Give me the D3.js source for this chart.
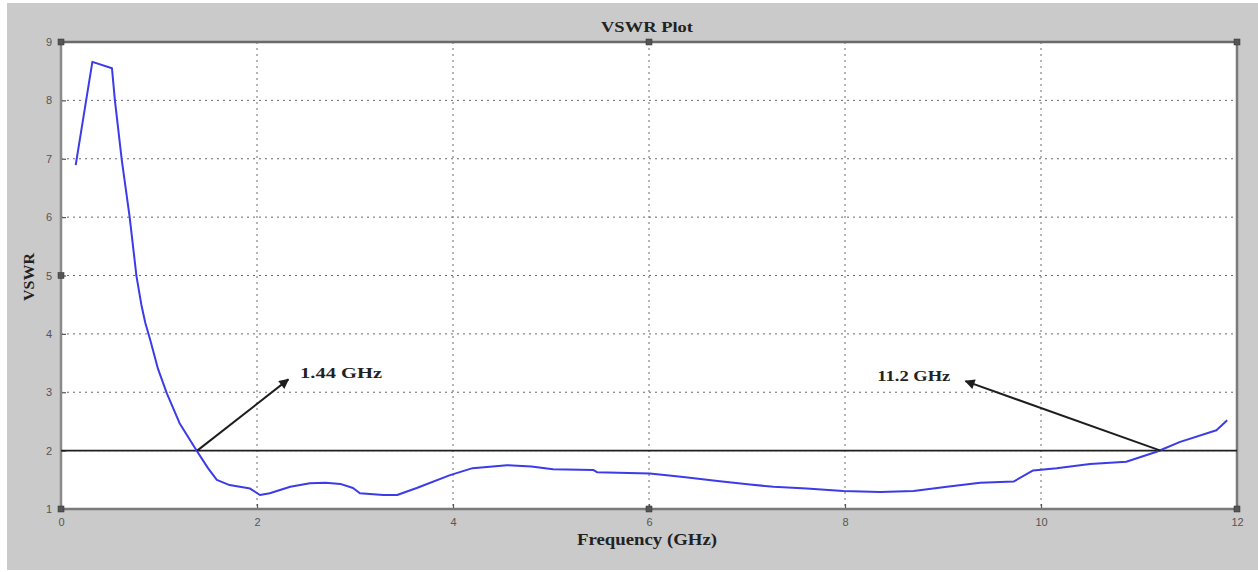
<!DOCTYPE html>
<html>
<head>
<meta charset="utf-8">
<script src="https://cdn.jsdelivr.net/npm/d3@7"></script>
<style>
  html, body { margin: 0; padding: 0; background: #ffffff; }
  svg { display: block; }
</style>
</head>
<body>
<svg id="chart" width="1258" height="572"></svg>
<script>
// Measured VSWR of the antenna versus frequency
const freqGHz = [0.15, 0.32, 0.52, 0.55, 0.62, 0.70, 0.77, 0.82, 0.86, 0.91, 0.99, 1.08, 1.21, 1.38,
  1.50, 1.59, 1.72, 1.93, 2.03, 2.13, 2.34, 2.54, 2.70, 2.85, 2.98, 3.05, 3.29, 3.43,
  3.63, 3.97, 4.20, 4.55, 4.80, 5.02, 5.43, 5.47, 6.01, 6.35, 6.70, 7.03, 7.27, 7.61,
  7.98, 8.36, 8.70, 9.04, 9.38, 9.72, 9.92, 10.16, 10.50, 10.87, 11.18, 11.42, 11.79, 11.90];
const vswr = [6.89, 8.66, 8.55, 8.00, 6.98, 6.01, 4.99, 4.50, 4.19, 3.90, 3.40, 2.98, 2.47, 2.01,
  1.70, 1.50, 1.41, 1.35, 1.24, 1.27, 1.38, 1.44, 1.45, 1.43, 1.36, 1.27, 1.24, 1.24,
  1.36, 1.58, 1.70, 1.75, 1.73, 1.68, 1.67, 1.63, 1.61, 1.55, 1.48, 1.42, 1.38, 1.35,
  1.31, 1.29, 1.31, 1.38, 1.45, 1.47, 1.66, 1.70, 1.77, 1.81, 1.98, 2.15, 2.35, 2.52];

const xTicks = [0, 2, 4, 6, 8, 10, 12];
const yTicks = [1, 2, 3, 4, 5, 6, 7, 8, 9];
const threshold = 2;

// Annotations: arrow tail (on the 2:1 line), arrow head, and label anchor
const markerLabels = ["1.44 GHz", "11.2 GHz"];
const arrowFrom = [[1.39, 2.0], [11.22, 2.0]];
const arrowTo = [[2.32, 3.22], [9.23, 3.19]];
const labelAt = [[2.44, 3.33], [8.33, 3.28]];

const svg = d3.select("#chart");
const W = 1258, H = 572;
const plot = { left: 61, right: 1237, top: 42, bottom: 509 };

// Figure background
svg.append("rect").attr("x", 0).attr("y", 0).attr("width", W).attr("height", H).attr("fill", "#ffffff");
svg.append("rect").attr("x", 7).attr("y", 3).attr("width", W - 7).attr("height", 567).attr("fill", "#cacaca");

const x = d3.scaleLinear().domain([0, 12]).range([plot.left, plot.right]);
const y = d3.scaleLinear().domain([1, 9]).range([plot.bottom, plot.top]);

// Axes box
svg.append("rect")
  .attr("x", plot.left).attr("y", plot.top)
  .attr("width", plot.right - plot.left).attr("height", plot.bottom - plot.top)
  .attr("fill", "#ffffff");

// Grid
const grid = svg.append("g").attr("stroke", "#6a6a6a").attr("stroke-width", 1).attr("stroke-dasharray", "2,4");
grid.selectAll("line.vx").data(xTicks.slice(1, -1)).join("line")
  .attr("x1", d => x(d)).attr("x2", d => x(d))
  .attr("y1", plot.top).attr("y2", plot.bottom);
grid.selectAll("line.hy").data(yTicks.slice(1, -1)).join("line")
  .attr("x1", plot.left).attr("x2", plot.right)
  .attr("y1", d => y(d)).attr("y2", d => y(d));

// Axes with ticks
const xAxis = svg.append("g").attr("transform", `translate(0,${plot.bottom})`)
  .call(d3.axisBottom(x).tickValues(xTicks).tickSize(-5).tickPadding(9).tickFormat(d3.format("d")));
const yAxis = svg.append("g").attr("transform", `translate(${plot.left},0)`)
  .call(d3.axisLeft(y).tickValues(yTicks).tickSize(-5).tickPadding(9).tickFormat(d3.format("d")));
[xAxis, yAxis].forEach(g => {
  g.select(".domain").remove();
  g.selectAll(".tick line").attr("stroke", "#555").attr("stroke-width", 1.2);
  g.selectAll(".tick text").attr("fill", "#555").attr("font-family", "Liberation Sans, Arial, sans-serif").attr("font-size", 11);
});

// Box outline
svg.append("line").attr("x1", plot.left).attr("x2", plot.right).attr("y1", plot.top).attr("y2", plot.top)
  .attr("stroke", "#6a6a6a").attr("stroke-width", 2.5);
svg.append("line").attr("x1", plot.left).attr("x2", plot.right).attr("y1", plot.bottom).attr("y2", plot.bottom)
  .attr("stroke", "#7a7a7a").attr("stroke-width", 2.5);
svg.append("line").attr("x1", plot.left).attr("x2", plot.left).attr("y1", plot.top).attr("y2", plot.bottom)
  .attr("stroke", "#8a8a8a").attr("stroke-width", 2.5);
svg.append("line").attr("x1", plot.right).attr("x2", plot.right).attr("y1", plot.top).attr("y2", plot.bottom)
  .attr("stroke", "#7a7a7a").attr("stroke-width", 2.5);

// 2:1 reference line
svg.append("line")
  .attr("x1", x(0)).attr("x2", x(12)).attr("y1", y(threshold)).attr("y2", y(threshold))
  .attr("stroke", "#1e1e1e").attr("stroke-width", 1.8);

// VSWR curve (straight segments between samples)
const pts = freqGHz.map((f, i) => [f, vswr[i]]);
svg.append("path")
  .datum(pts)
  .attr("fill", "none")
  .attr("stroke", "#3b3bea")
  .attr("stroke-width", 2)
  .attr("stroke-linejoin", "round")
  .attr("d", d3.line().x(d => x(d[0])).y(d => y(d[1])).curve(d3.curveLinear));

// Arrow annotations
svg.append("defs").append("marker")
  .attr("id", "head").attr("viewBox", "0 0 10 10").attr("refX", 9).attr("refY", 5)
  .attr("markerWidth", 6).attr("markerHeight", 5).attr("markerUnits", "strokeWidth").attr("orient", "auto")
  .append("path").attr("d", "M0,0 L10,5 L0,10 z").attr("fill", "#1e1e1e");

const labelWidths = [82, 73];
markerLabels.forEach((t, i) => {
  svg.append("line")
    .attr("x1", x(arrowFrom[i][0])).attr("y1", y(arrowFrom[i][1]))
    .attr("x2", x(arrowTo[i][0])).attr("y2", y(arrowTo[i][1]))
    .attr("stroke", "#1e1e1e").attr("stroke-width", 2)
    .attr("marker-end", "url(#head)");
  svg.append("text")
    .attr("x", x(labelAt[i][0])).attr("y", y(labelAt[i][1]))
    .attr("dominant-baseline", "central")
    .attr("font-family", "Liberation Serif, Times New Roman, serif")
    .attr("font-weight", "bold").attr("font-size", 15).attr("fill", "#222")
    .attr("textLength", labelWidths[i]).attr("lengthAdjust", "spacingAndGlyphs")
    .text(t);
});

// Selection handles on the axes box
const handles = [[0, 9], [6, 9], [12, 9], [0, 5], [0, 1], [6, 1], [12, 1]];
svg.selectAll("rect.handle").data(handles).join("rect")
  .attr("class", "handle")
  .attr("x", d => x(d[0]) - 3).attr("y", d => y(d[1]) - 3)
  .attr("width", 6).attr("height", 6)
  .attr("fill", "#555").attr("stroke", "#333").attr("stroke-width", 0.5);

// Titles
const serif = "Liberation Serif, Times New Roman, serif";
svg.append("text").attr("x", 647).attr("y", 27).attr("text-anchor", "middle").attr("dominant-baseline", "central")
  .attr("font-family", serif).attr("font-weight", "bold").attr("font-size", 15).attr("fill", "#222")
  .attr("textLength", 92).attr("lengthAdjust", "spacingAndGlyphs")
  .text("VSWR Plot");
svg.append("text").attr("x", 647).attr("y", 539).attr("text-anchor", "middle").attr("dominant-baseline", "central")
  .attr("font-family", serif).attr("font-weight", "bold").attr("font-size", 16).attr("fill", "#222")
  .attr("textLength", 140).attr("lengthAdjust", "spacingAndGlyphs")
  .text("Frequency (GHz)");
svg.append("text").attr("transform", "translate(29,277) rotate(-90)")
  .attr("text-anchor", "middle").attr("dominant-baseline", "central")
  .attr("font-family", serif).attr("font-weight", "bold").attr("font-size", 14).attr("fill", "#222")
  .attr("textLength", 48).attr("lengthAdjust", "spacingAndGlyphs")
  .text("VSWR");
</script>
</body>
</html>
